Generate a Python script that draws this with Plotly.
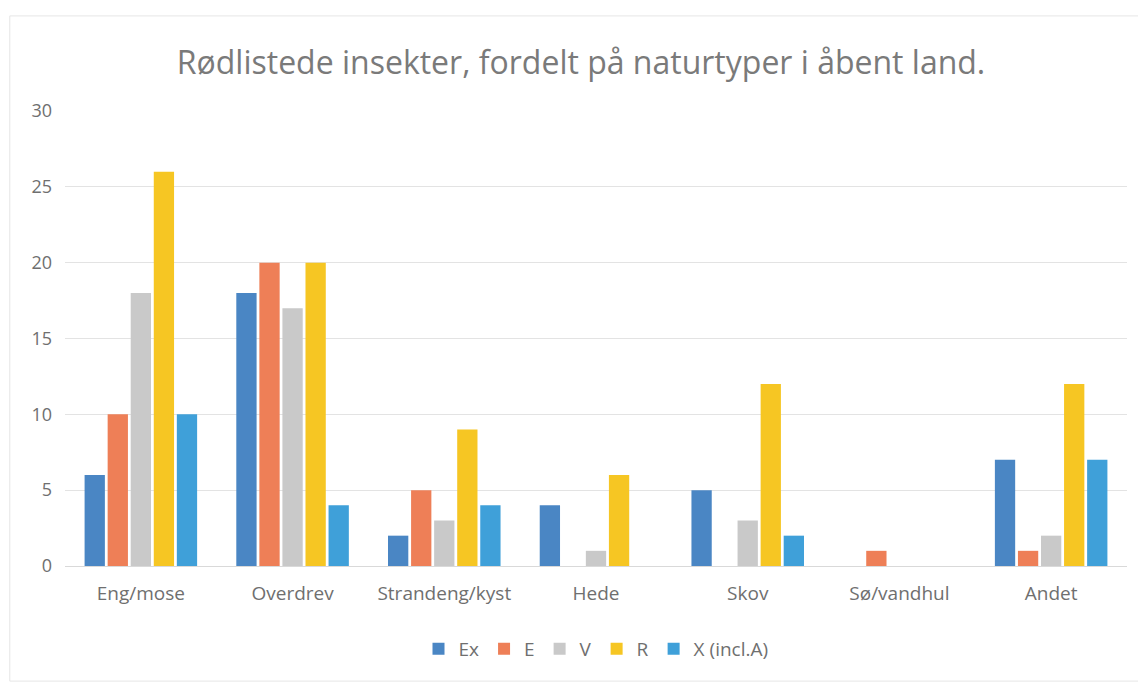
import plotly.graph_objects as go

categories = ["Eng/mose", "Overdrev", "Strandeng/kyst", "Hede", "Skov", "Sø/vandhul", "Andet"]
series_names = ["Ex", "E", "V", "R", "X (incl.A)"]
ex_values = [6, 18, 2, 4, 5, 0, 7]
e_values = [10, 20, 5, 0, 0, 1, 1]
v_values = [18, 17, 3, 1, 3, 0, 2]
r_values = [26, 20, 9, 6, 12, 0, 12]
x_values = [10, 4, 4, 0, 2, 0, 7]

colors = ["#4A86C4", "#EE7F57", "#C9C9C9", "#F6C623", "#3FA0D9"]

fig = go.Figure()
for name, vals, color in zip(series_names, [ex_values, e_values, v_values, r_values, x_values], colors):
    fig.add_trace(go.Bar(name=name, x=categories, y=vals, marker_color=color, marker_line_width=0))

fig.update_layout(
    width=1146,
    height=684,
    paper_bgcolor="white",
    plot_bgcolor="white",
    font=dict(family="Open Sans, Liberation Sans, sans-serif", color="#6f6f6f"),
    title=dict(
        text="Rødlistede insekter, fordelt på naturtyper i åbent land.",
        x=0.5,
        xanchor="center",
        y=0.92,
        yanchor="middle",
        font=dict(size=32, color="#7a7a7a"),
    ),
    barmode="group",
    bargap=0.24,
    bargroupgap=0.12,
    margin=dict(l=57, r=27, t=103, b=126),
    legend=dict(
        orientation="h",
        x=0.5,
        xanchor="center",
        y=-0.182,
        yanchor="middle",
        font=dict(size=19, color="#6f6f6f"),
        itemwidth=30,
    ),
    showlegend=True,
)
fig.update_xaxes(
    tickfont=dict(size=19, color="#6f6f6f"),
    showline=True,
    linecolor="#d9d9d9",
    ticks="",
    ticklabelstandoff=10,
)
fig.update_yaxes(
    range=[0, 30],
    dtick=5,
    showgrid=True,
    gridcolor="#e3e3e3",
    zeroline=False,
    tickfont=dict(size=18, color="#6f6f6f"),
    ticklabelstandoff=12,
)
fig.add_shape(
    type="rect", xref="paper", yref="paper",
    x0=-0.052, x1=1.014, y0=-0.253, y1=1.209,
    line=dict(color="#e6e6e6", width=1),
)

fig.write_html("out.html")
